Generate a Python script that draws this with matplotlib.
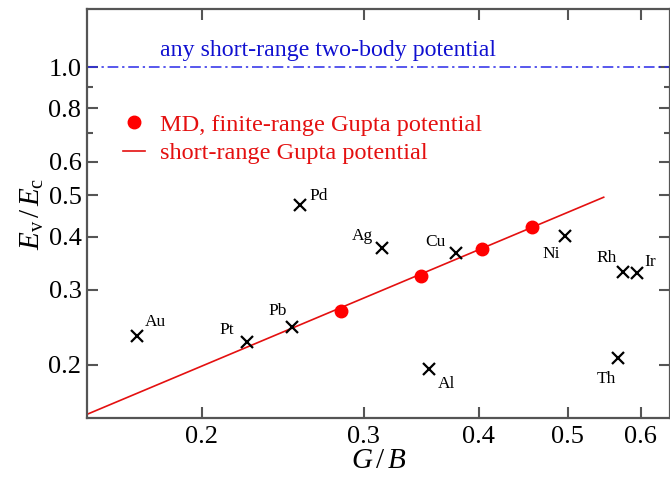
import numpy as np
import matplotlib
matplotlib.use("Agg")
import matplotlib.pyplot as plt
from matplotlib.ticker import FixedLocator, NullFormatter, FuncFormatter

# Data
elements = ["Au", "Pt", "Pb", "Pd", "Ag", "Cu", "Ni", "Rh", "Ir", "Th", "Al"]
elem_gb = [0.170, 0.224, 0.2505, 0.256, 0.314, 0.378, 0.497, 0.574, 0.594, 0.567, 0.353]
elem_ev = [0.234, 0.226, 0.2456, 0.475, 0.376, 0.366, 0.401, 0.330, 0.328, 0.208, 0.195]
# label offsets in pixels (dx, dy) relative to the marker
label_off = {
    "Au": (8, 14), "Pt": (-28, 12), "Pb": (-23, 16), "Pd": (9, 9),
    "Ag": (-30, 12), "Cu": (-31, 11), "Ni": (-23, -18), "Rh": (-26, 14),
    "Ir": (8, 11), "Th": (-21, -21), "Al": (9, -15),
}

md_gb = [0.283, 0.346, 0.403, 0.457]
md_ev = [0.268, 0.323, 0.374, 0.421]

line_gb = [0.15, 0.547]
line_ev = [0.153, 0.495]

twobody_ev = 1.0

plt.rcParams["font.family"] = ["Liberation Serif", "DejaVu Serif"]
plt.rcParams["mathtext.fontset"] = "custom"
plt.rcParams["mathtext.rm"] = "Liberation Serif"
plt.rcParams["mathtext.it"] = "Liberation Serif:italic"

fig = plt.figure(figsize=(6.7, 4.78), dpi=100)
ax = fig.add_axes([87 / 670, 60 / 478, 582.5 / 670, 409 / 478])
ax.set_xscale("log")
ax.set_yscale("log")
ax.set_xlim(0.15, 0.645)
ax.set_ylim(0.15, 1.37)

ax.axhline(twobody_ev, color="#2a2ae8", lw=1.1, ls=(0, (7, 2.5, 1.5, 2.5)))
ax.text(0.2 * np.exp((160 - 202) / 399.5), 1.06, "any short-range two-body potential",
        color="#1010d0", fontsize=17.2, ha="left", va="baseline")

ax.plot(line_gb, line_ev, color="#e41010", lw=1.2, label="short-range Gupta potential")
ax.plot(md_gb, md_ev, "o", color="#ff0000", ms=9, ls="none",
        label="MD, finite-range Gupta potential")
ax.plot(elem_gb, elem_ev, "x", color="black", ms=8.5, mew=1.6, ls="none")

for name, gx, gy in zip(elements, elem_gb, elem_ev):
    dx, dy = label_off[name]
    ax.annotate(name, (gx, gy), xytext=(dx, dy), textcoords="offset pixels",
                fontsize=12.5, ha="left", va="center")

handles, labels = ax.get_legend_handles_labels()
leg = ax.legend(handles[::-1], labels[::-1], loc="upper left",
                bbox_to_anchor=(0.045, 0.768), frameon=False, fontsize=17.5,
                handlelength=0.9, handletextpad=0.62, labelspacing=0.27,
                labelcolor="#e41010", borderaxespad=0)

# ticks
ax.xaxis.set_major_locator(FixedLocator([0.2, 0.3, 0.4, 0.5, 0.6]))
ax.xaxis.set_minor_locator(FixedLocator([]))
ax.yaxis.set_major_locator(FixedLocator([0.2, 0.3, 0.4, 0.5, 0.6, 0.8, 1.0]))
ax.yaxis.set_minor_locator(FixedLocator([0.7, 0.9]))
fmt = FuncFormatter(lambda v, p: f"{v:.1f}")
ax.xaxis.set_major_formatter(fmt)
ax.yaxis.set_major_formatter(fmt)
ax.xaxis.set_minor_formatter(NullFormatter())
ax.yaxis.set_minor_formatter(NullFormatter())
ax.tick_params(which="both", direction="in", top=True, right=True,
               color="#555555", width=1.5, labelsize=19, labelcolor="black")
ax.tick_params(which="major", length=8)
ax.tick_params(which="minor", length=4)
ax.tick_params(axis="x", pad=6)
ax.tick_params(axis="y", pad=4)
for s in ax.spines.values():
    s.set_color("#555555")
    s.set_linewidth(1.6)

ax.set_xlabel(r"$G\,/\,B$", fontsize=21, labelpad=0)
ax.set_ylabel(r"$E_{\rm v}\,/\,E_{\rm c}$", fontsize=21, labelpad=2)

fig.savefig("out.png", dpi=100)
